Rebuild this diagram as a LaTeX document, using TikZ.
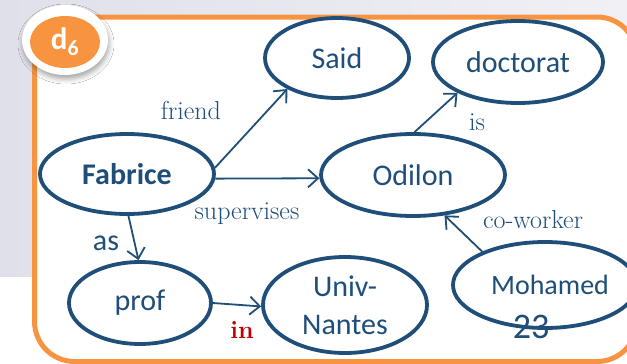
\documentclass[tikz,border=0pt]{standalone}
\usepackage{fontspec}
\newfontfamily\nodefont{Carlito}
\usetikzlibrary{arrows.meta,shapes.geometric,shadows.blur}
\definecolor{inkblue}{RGB}{31,78,121}
\definecolor{frameorange}{RGB}{248,148,64}
\definecolor{bggrayL}{RGB}{224,224,234}
\definecolor{bggrayR}{RGB}{240,240,245}
\definecolor{inred}{RGB}{192,0,0}
\tikzset{
  concept/.style={ellipse, draw=inkblue, line width=3.8pt, fill=white, inner sep=0pt,
    text=inkblue, font=\nodefont\fontsize{30}{36}\selectfont, align=center},
  rel/.style={draw=inkblue, line width=1.8pt, -{Straight Barb[length=10pt,width=18pt,line width=1.8pt]}},
  rellabel/.style={text=inkblue, font=\fontsize{26}{30}\selectfont, inner sep=0pt},
  sanslabel/.style={text=inkblue, font=\nodefont\fontsize{30}{36}\selectfont, inner sep=0pt}
}
\begin{document}
\begin{tikzpicture}[x=1pt,y=-1pt]
\clip (0,0) rectangle (627,364);
\useasboundingbox (0,0) rectangle (627,364);
% page background
\fill[white] (0,0) rectangle (627,364);
\shade[left color=bggrayL, right color=bggrayR] (0,0) rectangle (627,276);
% orange frame
\draw[frameorange, line width=5pt, fill=white, rounded corners=40pt] (34.5,17) rectangle (637,361.5);
% badge
\node (badgeback) [ellipse, fill=white, minimum width=86pt, minimum height=70pt, inner sep=0pt,
  blur shadow={shadow xshift=1pt, shadow yshift=-4pt, shadow blur radius=5pt, shadow opacity=35}] at (65,40) {};
\node (badge) [ellipse, fill=frameorange, minimum width=70pt, minimum height=52pt, inner sep=0pt,
  text=white, font=\nodefont\bfseries\fontsize{31}{34}\selectfont] at (65,42) {d\textsubscript{6}};
% concepts
\node (said) [concept, minimum width=144pt, minimum height=80pt] at (337,58) {Said};
\node (doct) [concept, minimum width=170pt, minimum height=82pt] at (518,62) {doctorat};
\node (fab) [concept, minimum width=174pt, minimum height=80pt, font=\nodefont\bfseries\fontsize{30}{36}\selectfont] at (127,174) {Fabrice};
\node (odi) [concept, minimum width=184pt, minimum height=82pt] at (413,175) {Odilon};
\node (prof) [concept, minimum width=142pt, minimum height=82pt] at (140,303) {prof};
\node (univ) [concept, minimum width=164pt, minimum height=96pt, font=\nodefont\fontsize{30}{38}\selectfont] at (345,305) {Univ-\\Nantes};
\node (moh) [concept, minimum width=184pt, minimum height=86pt, font=\nodefont\fontsize{28}{34}\selectfont] at (545,285) {\hspace*{10pt}Mohamed};
% relations
\draw[rel] (fab.4) -- (said.212);
\draw[rel] (fab.-3) -- (odi.182);
\draw[rel] (odi.88) -- (doct.207);
\draw[rel] (fab.-88) -- (prof.92);
\draw[rel] (prof.0) -- (univ.181);
\draw[rel] (moh.152) -- (odi.-52);
% relation labels
\node (lfriend) [rellabel] at (191,110) {friend};
\node (lsup) [rellabel] at (247,214) {supervises};
\node (lis) [rellabel] at (477,122) {is};
\node (lcow) [rellabel] at (533,220) {co-worker};
\node (las) [sanslabel] at (106,243) {as};
\node (lin) [rellabel, text=inred, font=\bfseries\fontsize{25}{30}\selectfont] at (242,330) {in};
% slide number
\node (pagenum) [text=inkblue, font=\nodefont\fontsize{36}{40}\selectfont, inner sep=0pt] at (531,327) {23};
\end{tikzpicture}
\end{document}
